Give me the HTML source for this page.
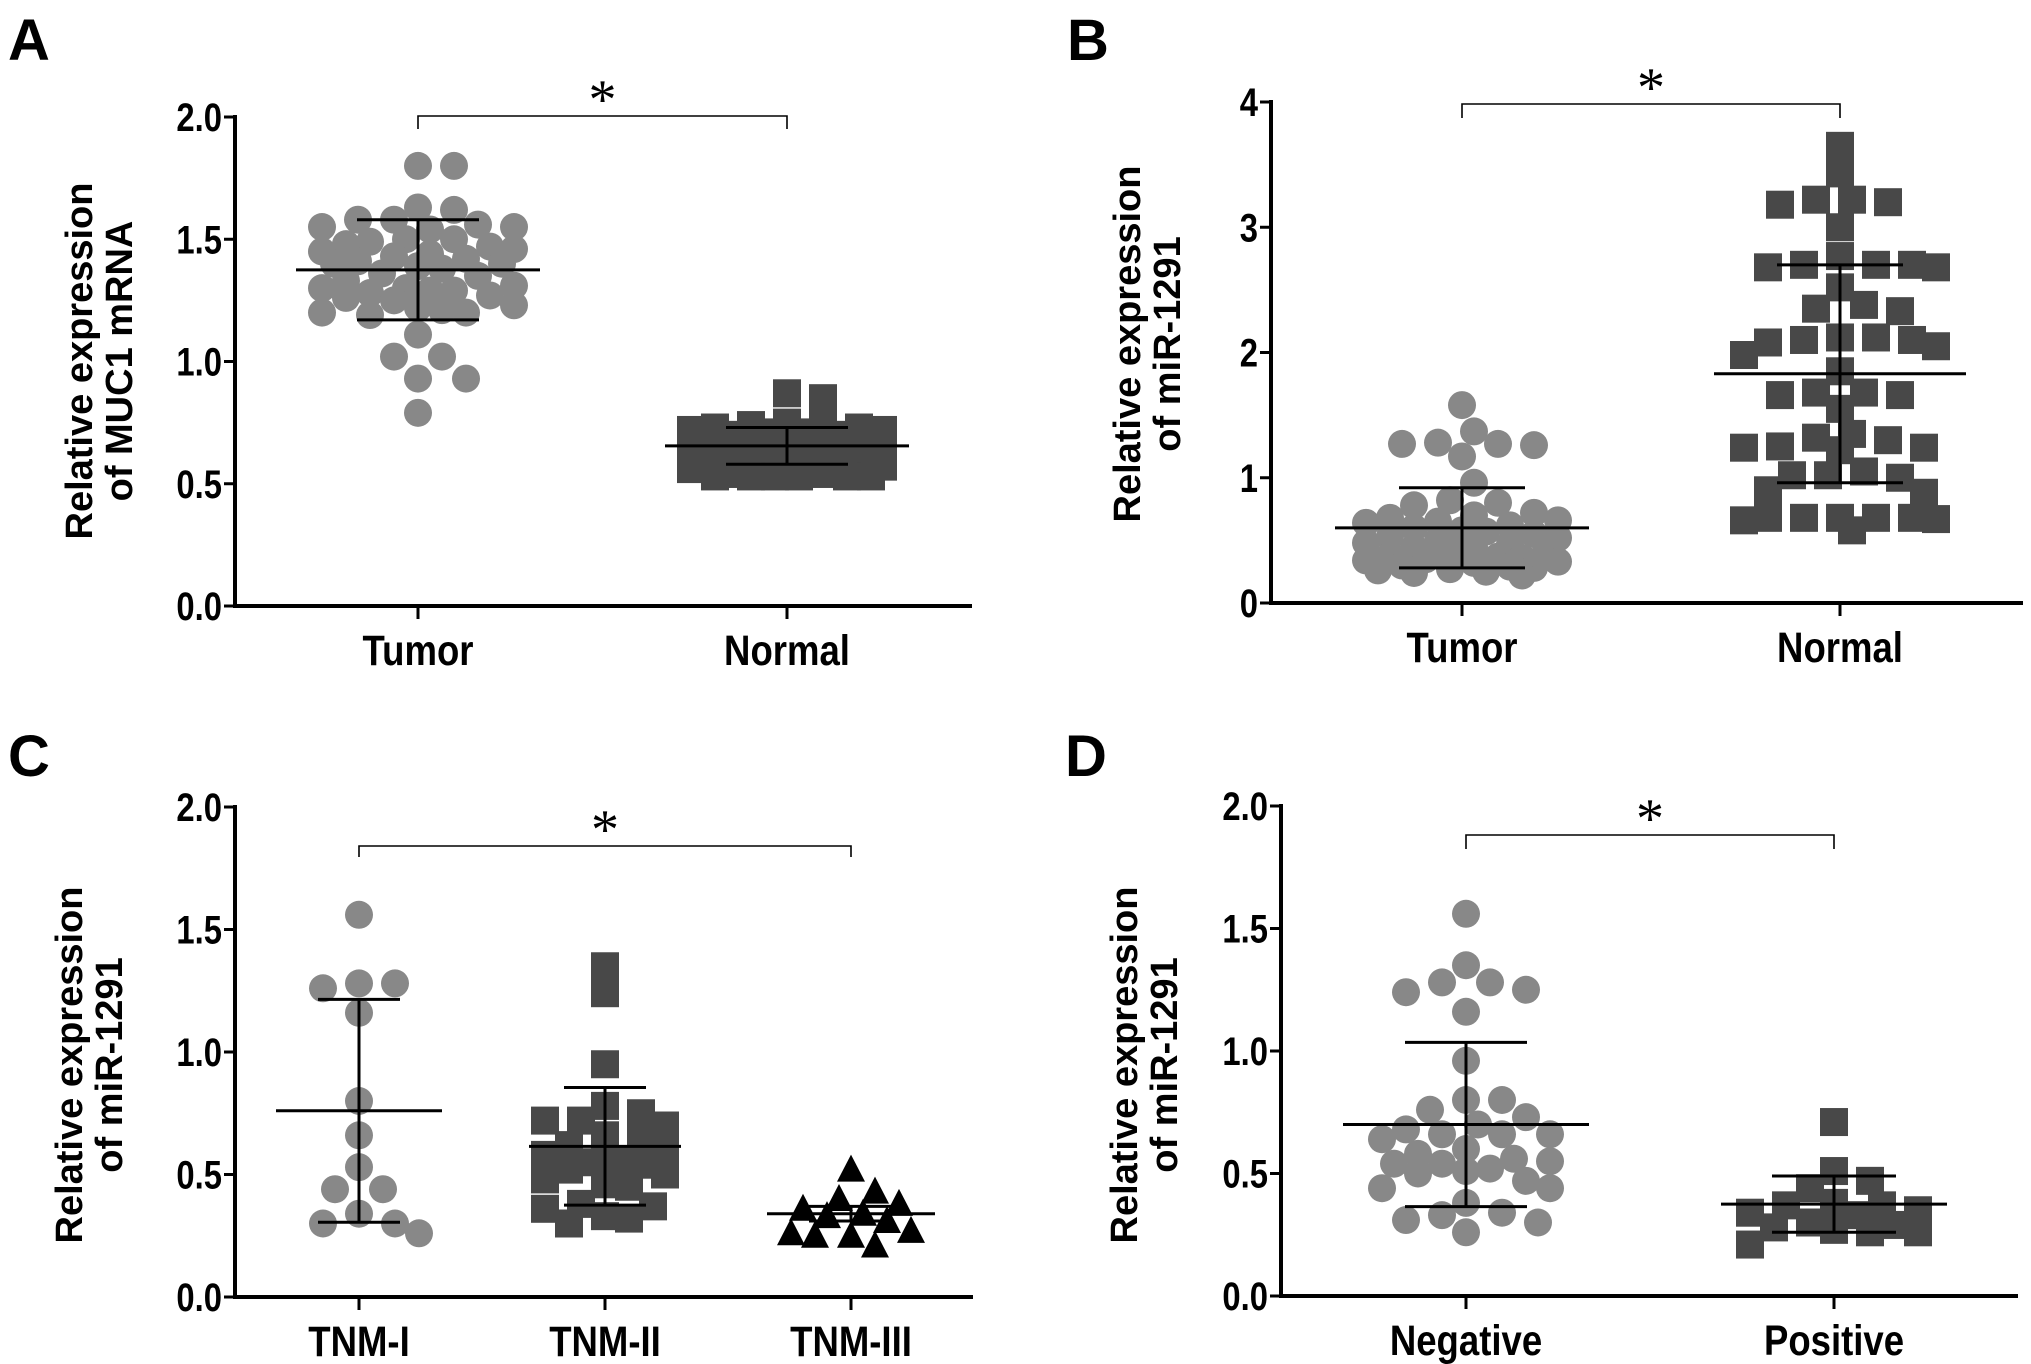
<!DOCTYPE html>
<html><head><meta charset="utf-8"><style>
html,body{margin:0;padding:0;background:#fff;}
svg{display:block;font-family:"Liberation Sans",Arial,sans-serif;font-weight:bold;}
</style></head><body>
<svg id="fig" width="2031" height="1364" viewBox="0 0 2031 1364" xmlns="http://www.w3.org/2000/svg"></svg>
<script>
// ---- data ----
const aCategories = ["Tumor", "Normal"];
const aTicks = ["0.0", "0.5", "1.0", "1.5", "2.0"];
const aTumor = [1.80,1.80,1.63,1.62,1.58,1.58,1.56,1.55,1.55,1.54,1.50,1.50,1.49,1.48,1.47,1.46,1.45,1.44,1.43,1.42,1.41,1.40,1.40,1.39,1.38,1.36,1.35,1.33,1.31,1.30,1.30,1.29,1.29,1.28,1.27,1.26,1.25,1.23,1.22,1.21,1.20,1.20,1.19,1.11,1.02,1.02,0.93,0.93,0.79];
const aNormal = [0.87,0.85,0.75,0.74,0.74,0.73,0.73,0.72,0.72,0.71,0.71,0.70,0.70,0.69,0.68,0.68,0.67,0.66,0.66,0.65,0.65,0.64,0.63,0.63,0.62,0.61,0.60,0.60,0.59,0.58,0.57,0.57,0.56,0.55,0.54,0.54,0.53,0.53,0.53,0.53,0.53,0.53];
const aMean = [1.375, 0.655];
const aSD = [0.205, 0.075];

const bCategories = ["Tumor", "Normal"];
const bTicks = ["0", "1", "2", "3", "4"];
const bTumor = [1.58,1.37,1.28,1.27,1.26,1.27,1.17,0.96,0.82,0.80,0.78,0.72,0.70,0.68,0.66,0.65,0.64,0.62,0.60,0.58,0.57,0.55,0.53,0.52,0.50,0.48,0.47,0.45,0.44,0.42,0.40,0.38,0.37,0.36,0.35,0.34,0.33,0.32,0.30,0.29,0.28,0.27,0.26,0.25,0.24,0.22];
const bNormal = [3.65,3.43,3.22,3.20,3.18,3.22,3.00,2.77,2.70,2.68,2.70,2.68,2.70,2.52,2.38,2.35,2.33,2.12,2.10,2.08,2.12,2.05,2.10,1.98,1.85,1.68,1.66,1.68,1.66,1.55,1.35,1.32,1.30,1.25,1.24,1.22,1.24,1.05,1.02,1.00,1.02,0.90,0.88,0.68,0.68,0.66,0.68,0.67,0.68,0.68,0.58];
const bMean = [0.60, 1.83];
const bSD = [0.32, 0.87];

const cCategories = ["TNM-I", "TNM-II", "TNM-III"];
const cTicks = ["0.0", "0.5", "1.0", "1.5", "2.0"];
const cTNM1 = [1.56,1.28,1.26,1.28,1.16,0.80,0.66,0.53,0.44,0.44,0.34,0.30,0.30,0.26];
const cTNM2 = [1.35,1.24,0.95,0.78,0.75,0.72,0.72,0.70,0.66,0.65,0.62,0.60,0.58,0.56,0.55,0.54,0.52,0.50,0.48,0.46,0.45,0.38,0.37,0.36,0.33,0.32,0.30];
const cTNM3 = [0.52,0.43,0.40,0.38,0.36,0.34,0.33,0.31,0.27,0.26,0.25,0.25,0.21];
const cMean = [0.76, 0.615, 0.34];
const cSD = [0.455, 0.24, 0.03];

const dCategories = ["Negative", "Positive"];
const dTicks = ["0.0", "0.5", "1.0", "1.5", "2.0"];
const dNegative = [1.56,1.35,1.28,1.28,1.25,1.24,1.16,0.96,0.80,0.80,0.76,0.73,0.70,0.68,0.66,0.66,0.66,0.64,0.60,0.58,0.56,0.55,0.54,0.54,0.52,0.51,0.50,0.47,0.44,0.44,0.38,0.34,0.33,0.31,0.30,0.26];
const dPositive = [0.71,0.51,0.47,0.44,0.38,0.37,0.37,0.35,0.34,0.33,0.30,0.29,0.28,0.27,0.26,0.26,0.21];
const dMean = [0.70, 0.375];
const dSD = [0.335, 0.115];

const NS = "http://www.w3.org/2000/svg";
const svg = document.getElementById("fig");
function mk(tag, attrs, parent) {
  const e = document.createElementNS(NS, tag);
  for (const k in attrs) e.setAttribute(k, attrs[k]);
  (parent || svg).appendChild(e);
  return e;
}

function swarm(vals, y, size, spread) {
  const order = vals.map((v, i) => i).sort((a, b) => vals[b] - vals[a]);
  const placed = [];
  const res = new Array(vals.length);
  const step = 12;
  const cands = [0];
  for (let k = 1; k * step <= spread; k++) { cands.push(k * step); cands.push(-k * step); }
  for (const i of order) {
    const py = y(vals[i]);
    let chosen = null, best = -1, bestC = 0;
    for (const c of cands) {
      let md = Infinity;
      for (const p of placed) md = Math.min(md, Math.hypot(p[0] - c, p[1] - py));
      if (md >= size * 0.95) { chosen = c; break; }
      if (md > best) { best = md; bestC = c; }
    }
    if (chosen === null) chosen = bestC;
    placed.push([chosen, py]);
    res[i] = chosen;
  }
  return res;
}

function condText(parent, x, y, size, anchor, str, sx) {
  const g = mk("g", {transform: `translate(${x},${y}) scale(${sx},1)`}, parent);
  const t = mk("text", {x: 0, y: 0, "font-size": size, "text-anchor": anchor}, g);
  t.textContent = str;
  return g;
}

function panel(cfg) {
  const g = mk("g", {});
  
  
  const tickVals = cfg.ticks.map(t => parseFloat(t));
  const ymax = tickVals[tickVals.length - 1];
  const y = v => cfg.y0 - (v / ymax) * (cfg.y0 - cfg.yTop);
  const x = i => cfg.xs[i];

  const L = mk("text", {x: cfg.letterX, y: cfg.letterY, "font-size": 58}, g);
  L.textContent = cfg.letter;
  
  

  const ya = mk("line", {x1: cfg.ax, y1: cfg.yTop - 2, x2: cfg.ax, y2: cfg.y0 + 2, stroke: "#000", "stroke-width": 4}, g);
  
  
  const xa = mk("line", {x1: cfg.ax - 2, y1: cfg.y0, x2: cfg.axEnd, y2: cfg.y0, stroke: "#000", "stroke-width": 4}, g);
  
  

  cfg.ticks.forEach((t, i) => {
    const ty = y(tickVals[i]);
    mk("line", {x1: cfg.ax - 11, y1: ty, x2: cfg.ax, y2: ty, stroke: "#000", "stroke-width": 3}, g);
    const tt = condText(g, cfg.ax - 13, ty + 14, 40, "end", t, 0.82);
    
    
  });
  cfg.cats.forEach((c, i) => {
    mk("line", {x1: x(i), y1: cfg.y0, x2: x(i), y2: cfg.y0 + 13, stroke: "#000", "stroke-width": 3}, g);
    const ct = condText(g, x(i), cfg.y0 + 59, 43, "middle", c, 0.85);
    
    
  });

  const tg = mk("g", {transform: `translate(${cfg.titleX},${cfg.titleY}) rotate(-90)`}, g);
  
  
  const t1 = mk("text", {x: 0, y: 0, "font-size": 38, "text-anchor": "middle"}, tg);
  t1.textContent = "Relative expression";
  const t2 = mk("text", {x: 0, y: 40, "font-size": 38, "text-anchor": "middle"}, tg);
  t2.textContent = cfg.title2;

  const bx1 = x(cfg.bracket[0]), bx2 = x(cfg.bracket[1]);
  const br = mk("path", {d: `M${bx1},${cfg.brY + cfg.brH} V${cfg.brY} H${bx2} V${cfg.brY + cfg.brH}`, fill: "none", stroke: "#000", "stroke-width": 1.6}, g);
  
  
  const st = mk("text", {x: (bx1 + bx2) / 2, y: cfg.brY + 2, "font-size": 56, "font-weight": "normal", "font-family": "Liberation Serif, serif", "text-anchor": "middle"}, g);
  st.textContent = "*";
  
  

  cfg.series.forEach((vals, si) => {
    const shape = cfg.shapes[si];
    const offs = swarm(vals, y, 28, cfg.spread[si]);
    vals.forEach((v, i) => {
      const px = x(si) + offs[i], py = y(v);
      let m;
      if (shape === "circle") m = mk("circle", {cx: px, cy: py, r: 14, fill: "#888"}, g);
      else if (shape === "square") m = mk("rect", {x: px - 14, y: py - 14, width: 28, height: 28, fill: "#484848"}, g);
      else m = mk("polygon", {points: `${px},${py - 15} ${px - 14},${py + 12} ${px + 14},${py + 12}`, fill: "#000"}, g);
      
      
    });
  });

  cfg.means.forEach((mv, i) => {
    const cx = x(i), my = y(mv);
    const hi = y(mv + cfg.sds[i]), lo = y(mv - cfg.sds[i]);
    const mw = cfg.meanW[i], cw = cfg.capW[i];
    const ml = mk("line", {x1: cx - mw, y1: my, x2: cx + mw, y2: my, stroke: "#000", "stroke-width": 3}, g);
    
    
    const el = mk("path", {d: `M${cx - cw},${hi} H${cx + cw} M${cx},${hi} V${lo} M${cx - cw},${lo} H${cx + cw}`, fill: "none", stroke: "#000", "stroke-width": 3}, g);
    
    
  });
}

panel({name: "panel-a", letter: "A", letterX: 8, letterY: 60, ax: 235, axEnd: 972, yTop: 117, y0: 606,
  ticks: aTicks, cats: aCategories, xs: [418, 787], series: [aTumor, aNormal], shapes: ["circle", "square"], spread: [100, 105],
  means: aMean, sds: aSD, meanW: [122, 122], capW: [61, 61], bracket: [0, 1], brY: 116, brH: 13,
  titleX: 92, titleY: 361, title2: "of MUC1 mRNA"});
panel({name: "panel-b", letter: "B", letterX: 1067, letterY: 60, ax: 1271, axEnd: 2023, yTop: 102, y0: 603,
  ticks: bTicks, cats: bCategories, xs: [1462, 1840], series: [bTumor, bNormal], shapes: ["circle", "square"], spread: [100, 96],
  means: bMean, sds: bSD, meanW: [127, 126], capW: [63, 63], bracket: [0, 1], brY: 104, brH: 14,
  titleX: 1140, titleY: 344, title2: "of miR-1291"});
panel({name: "panel-c", letter: "C", letterX: 8, letterY: 776, ax: 235, axEnd: 973, yTop: 807, y0: 1297,
  ticks: cTicks, cats: cCategories, xs: [359, 605, 851], series: [cTNM1, cTNM2, cTNM3], shapes: ["circle", "square", "triangle"], spread: [60, 62, 62],
  means: cMean, sds: cSD, meanW: [83, 76, 84], capW: [41, 41, 42], bracket: [0, 2], brY: 846, brH: 11,
  titleX: 82, titleY: 1065, title2: "of miR-1291"});
panel({name: "panel-d", letter: "D", letterX: 1065, letterY: 776, ax: 1281, axEnd: 2018, yTop: 806, y0: 1296,
  ticks: dTicks, cats: dCategories, xs: [1466, 1834], series: [dNegative, dPositive], shapes: ["circle", "square"], spread: [90, 92],
  means: dMean, sds: dSD, meanW: [123, 113], capW: [61, 62], bracket: [0, 1], brY: 835, brH: 14,
  titleX: 1137, titleY: 1065, title2: "of miR-1291"});
</script>
</body></html>
